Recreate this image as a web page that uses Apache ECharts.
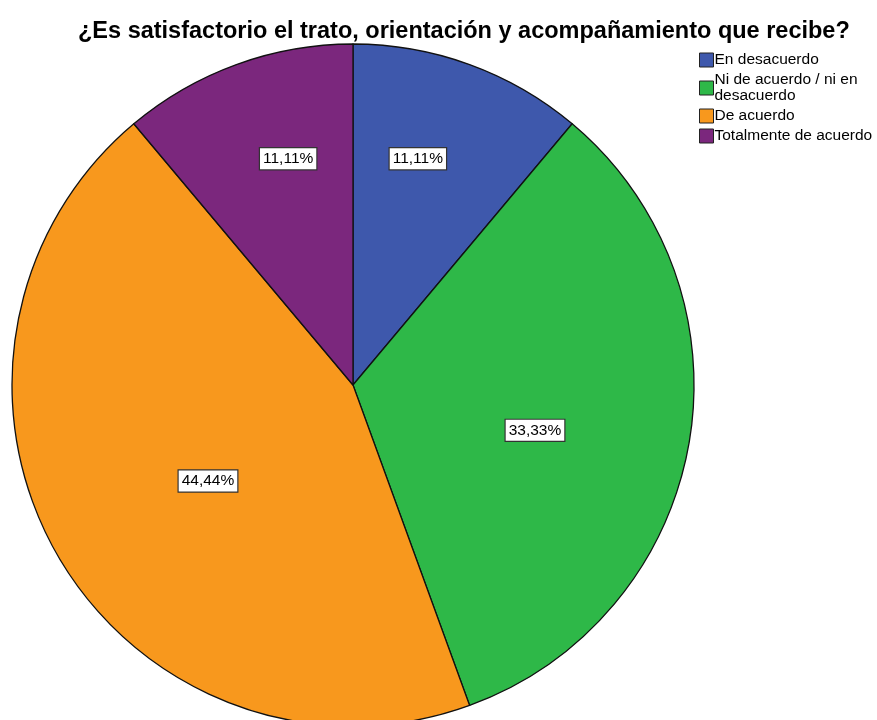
<!DOCTYPE html>
<html>
<head>
<meta charset="utf-8">
<script src="https://cdn.jsdelivr.net/npm/echarts@6/dist/echarts.min.js"></script>
<style>
    html, body {margin: 0; padding: 0; background: #fff;}
    #chart {width: 877px; height: 720px;}
</style>
</head>
<body>
<div id="chart"></div>
<script>
    // respuestas (frecuencias) por categoría
    var categories = ['En desacuerdo', 'Ni de acuerdo / ni en desacuerdo', 'De acuerdo', 'Totalmente de acuerdo'];
    var counts = [1, 3, 4, 1];
    var colors = ['#3E58AC', '#2EB848', '#F8981D', '#7B277D'];
    var chartTitle = '¿Es satisfactorio el trato, orientación y acompañamiento que recibe?';

    var center = [353, 385];
    var radius = 341;
    // where SPSS puts the inside labels: fraction of radius and angle shift (deg)
    var labelRadius = [0.69, 0.55, 0.51, 0.69];
    var labelShift = [-4, 4, -3.5, 4];

    var pieData = categories.map(function (c, i) {
        return {name: c, value: counts[i], itemStyle: {color: colors[i]}};
    });

    var total = counts.reduce(function (a, b) { return a + b; }, 0);
    var midAngles = [];
    var acc = 0;
    counts.forEach(function (v) {
        midAngles.push((acc + v / 2) / total * 360);
        acc += v;
    });

    var option = {
        backgroundColor: '#fff',
        animation: false,
        title: {
            text: chartTitle,
            left: 73,
            top: 15,
            textStyle: {fontFamily: 'Liberation Sans', fontSize: 23.5, fontWeight: 'bold', color: '#000'}
        },
        legend: {
            orient: 'vertical',
            left: 694,
            top: 47,
            itemWidth: 14,
            itemHeight: 14,
            itemGap: 4,
            icon: 'rect',
            selectedMode: false,
            itemStyle: {borderColor: '#222', borderWidth: 1},
            textStyle: {fontFamily: 'Liberation Sans', fontSize: 15.5, color: '#000', padding: [0, 0, 0, -4], lineHeight: 16},
            formatter: function (name) {
                return name.length > 25 ? name.replace(' desacuerdo', '\ndesacuerdo') : name;
            },
            data: categories
        },
        series: [{
            type: 'pie',
            center: center,
            radius: radius,
            startAngle: 90,
            clockwise: true,
            data: pieData,
            itemStyle: {borderColor: '#111', borderWidth: 1.3},
            emphasis: {disabled: true},
            label: {
                position: 'inside',
                fontFamily: 'Liberation Sans',
                fontSize: 15.5,
                color: '#000',
                backgroundColor: '#fff',
                borderColor: '#333',
                borderWidth: 1.2,
                padding: [3, 3, 2, 3],
                formatter: function (p) {
                    return (p.value / total * 100).toFixed(2).replace('.', ',') + '%';
                }
            },
            labelLine: {show: false},
            labelLayout: function (p) {
                var i = p.dataIndex;
                var lr = p.labelRect;
                var cx = lr.x + lr.width / 2, cy = lr.y + lr.height / 2;
                var a = (midAngles[i] + labelShift[i]) * Math.PI / 180;
                var d = radius * labelRadius[i];
                var tx = center[0] + d * Math.sin(a);
                var ty = center[1] - d * Math.cos(a);
                return {dx: tx - cx, dy: ty - cy};
            }
        }]
    };

    var myChart = echarts.init(document.getElementById('chart'));
    myChart.setOption(option);
</script>
</body>
</html>
